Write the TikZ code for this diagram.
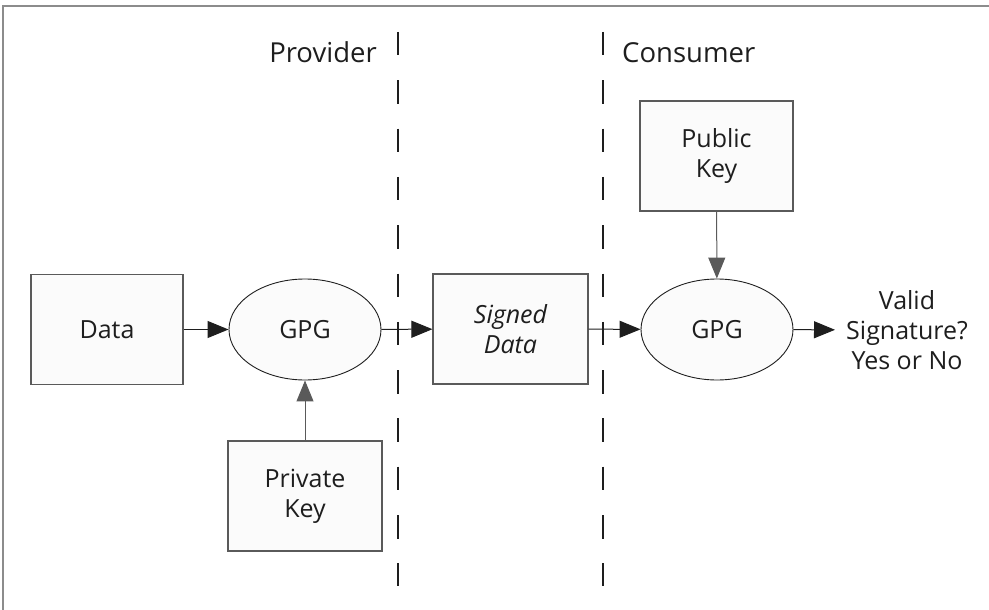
\documentclass[tikz,border=0pt]{standalone}
\usepackage{fontspec}
\setmainfont{Open Sans}
\usetikzlibrary{arrows.meta,shapes.geometric}
\definecolor{boxline}{HTML}{5A5A5A}
\definecolor{boxfill}{HTML}{FBFBFB}
\definecolor{txt}{HTML}{1E1E1E}
\tikzset{
  stepbox/.style={draw=boxline,fill=boxfill,line width=1.1pt,minimum width=152pt,minimum height=110pt,inner sep=0pt,align=center,font=\fontsize{25}{30}\selectfont,text=txt},
  proc/.style={ellipse,draw=txt,fill=boxfill,line width=0.9pt,minimum width=152pt,minimum height=101pt,inner sep=0pt,font=\fontsize{25}{30}\selectfont,text=txt},
  flow/.style={draw=txt,line width=1pt,-{Triangle[length=21pt,width=17pt]}},
  divider/.style={draw=txt,line width=1.1pt,dash pattern=on 23.5pt off 24.8pt},
  heading/.style={font=\fontsize{27.5}{32}\selectfont,text=txt,inner sep=0pt}
}
\begin{document}
\begin{tikzpicture}[x=1pt,y=-1pt]
\useasboundingbox (0,0) rectangle (989,610);
% frame
\draw[color=gray!90,line width=2pt] (2.5,610) -- (2.5,6.5) -- (989,6.5);
% dividers
\coordinate (d1t) at (398,32);
\coordinate (d1b) at (398,586);
\coordinate (d2t) at (603,32);
\coordinate (d2b) at (603,586);
\draw[divider] (d1t) -- (d1b);
\draw[divider] (d2t) -- (d2b);
% headings
\node[heading,anchor=base east] (prov) at (377,63) {Provider};
\node[heading,anchor=base west] (cons) at (622,63) {Consumer};
% nodes
\node[stepbox] (data) at (107,329.5) {Data};
\node[proc] (gpg1) at (305,329.5) {GPG};
\node[stepbox,minimum width=154pt] (priv) at (305,496) {Private\\Key};
\node[stepbox,minimum width=155pt] (signed) at (510.5,329) {\itshape Signed\\\itshape Data};
\node[proc] (gpg2) at (717,329.5) {GPG};
\node[stepbox,minimum width=153pt] (pub) at (716.5,156) {Public\\Key};
\node[align=center,font=\fontsize{25}{30}\selectfont,text=txt,inner xsep=11pt,inner ysep=0pt,anchor=west] (valid) at (835,330) {Valid\\Signature?\\Yes or No};
% connectors
\draw[flow] (data) -- (gpg1);
\draw[flow] (gpg1) -- (signed);
\draw[flow] (signed) -- (gpg2);
\draw[flow] (gpg2) -- (valid);
\draw[flow,draw=boxline] (priv) -- (gpg1);
\draw[flow,draw=boxline] (pub) -- (gpg2);
\end{tikzpicture}
\end{document}
